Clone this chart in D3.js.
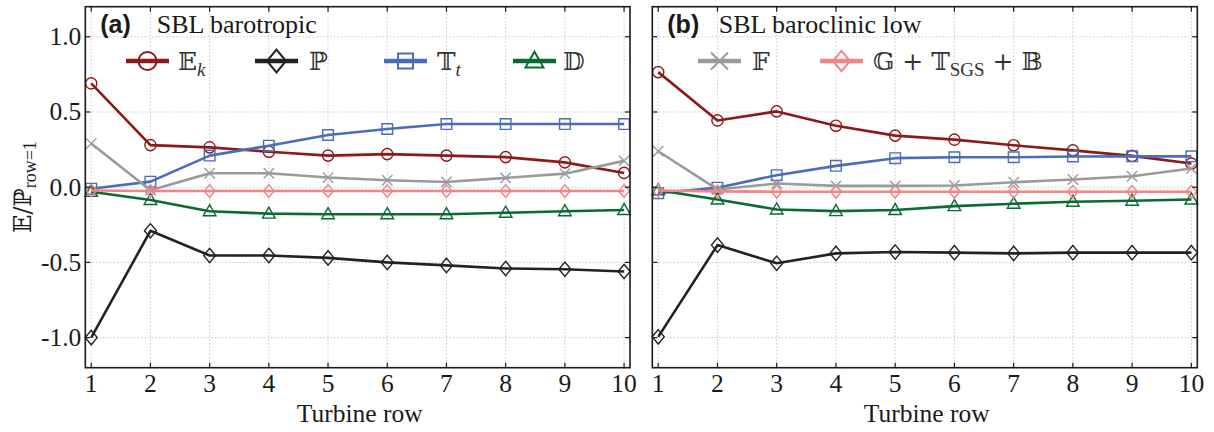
<!DOCTYPE html>
<html><head><meta charset="utf-8">
<script src="https://cdn.jsdelivr.net/npm/d3@7"></script>
<style>
html,body{margin:0;padding:0;background:#fff;}
svg{display:block;}
</style></head>
<body>
<svg id="chart" width="1214" height="432"></svg>
<script>
// ---- data ----
const rows = [1,2,3,4,5,6,7,8,9,10];
const xTicks = [1,2,3,4,5,6,7,8,9,10];
const yTicks = [-1.0,-0.5,0.0,0.5,1.0];
const yTickLabels = ["-1.0","-0.5","0.0","0.5","1.0"];

// panel (a) SBL barotropic
const ekA = [0.69,0.28,0.265,0.236,0.21,0.22,0.21,0.20,0.165,0.095];
const pA  = [-1.0,-0.29,-0.454,-0.454,-0.47,-0.50,-0.52,-0.54,-0.545,-0.56];
const ttA = [-0.01,0.037,0.21,0.276,0.347,0.387,0.42,0.42,0.42,0.42];
const dA  = [-0.03,-0.085,-0.16,-0.176,-0.18,-0.18,-0.18,-0.17,-0.16,-0.152];
const fA  = [0.29,-0.02,0.093,0.093,0.064,0.046,0.035,0.062,0.09,0.175];
const gA  = [-0.022,-0.025,-0.025,-0.025,-0.025,-0.025,-0.025,-0.025,-0.025,-0.025];

// panel (b) SBL baroclinic low
const ekB = [0.765,0.444,0.504,0.409,0.343,0.316,0.279,0.245,0.208,0.157];
const pB  = [-0.995,-0.385,-0.506,-0.44,-0.431,-0.435,-0.44,-0.435,-0.435,-0.435];
const ttB = [-0.04,-0.003,0.08,0.142,0.193,0.199,0.199,0.204,0.205,0.205];
const dB  = [-0.02,-0.082,-0.148,-0.159,-0.152,-0.126,-0.11,-0.097,-0.09,-0.082];
const fB  = [0.239,-0.015,0.025,0.009,0.009,0.011,0.033,0.051,0.073,0.124];
const gB  = [-0.022,-0.028,-0.03,-0.03,-0.03,-0.03,-0.03,-0.03,-0.03,-0.03];

const panelTags = ["(a)","(b)"];
const panelTitles = ["SBL barotropic","SBL baroclinic low"];
const xLabel = "Turbine row";

// ---- styles ----
const colors = {ek:"#8b1a1a", p:"#222222", tt:"#4a6cba", d:"#0a6b32", f:"#9a9a9a", g:"#f28585"};
const serif = "'Liberation Serif','Times New Roman',serif";
const mathFont = "'DejaVu Serif','DejaVu Sans',serif";

const svg = d3.select("#chart");
const plotTop = 6.7, plotBottom = 367.7;
const panels = [
  {left:85.3, right:630, data:{ek:ekA,p:pA,tt:ttA,d:dA,f:fA,g:gA}, yLabels:true},
  {left:652.3, right:1197.3, data:{ek:ekB,p:pB,tt:ttB,d:dB,f:fB,g:gB}, yLabels:false}
];

function markerPath(type, s){
  switch(type){
    case "circle": return d3.symbol().type(d3.symbolCircle).size(Math.PI*s*s)();
    case "square": return `M${-s},${-s}H${s}V${s}H${-s}Z`;
    case "diamond": return `M0,${-s*1.2}L${s},0L0,${s*1.2}L${-s},0Z`;
    case "triangle": return `M0,${-s*1.1}L${s*1.05},${s*0.75}L${-s*1.05},${s*0.75}Z`;
    case "x": return `M${-s},${-s}L${s},${s}M${-s},${s}L${s},${-s}`;
  }
}
const series = [
  {key:"ek", marker:"circle", ms:5.6},
  {key:"p", marker:"diamond", ms:6},
  {key:"tt", marker:"square", ms:5.3},
  {key:"d", marker:"triangle", ms:6},
  {key:"f", marker:"x", ms:5.2},
  {key:"g", marker:"diamond", ms:5.3}
];

const y = d3.scaleLinear().domain([-1.2,1.2]).range([plotBottom, plotTop]);

panels.forEach((pn, pi) => {
  const x = d3.scaleLinear().domain([0.9,10.1]).range([pn.left, pn.right]);
  const g = svg.append("g");
  g.selectAll(".gx").data(xTicks).join("line")
    .attr("x1", d=>x(d)).attr("x2", d=>x(d)).attr("y1", plotTop).attr("y2", plotBottom)
    .attr("stroke","#c8c8c8").attr("stroke-width",1).attr("stroke-dasharray","1.5,2");
  g.selectAll(".gy").data(yTicks).join("line")
    .attr("x1", pn.left).attr("x2", pn.right).attr("y1", d=>y(d)).attr("y2", d=>y(d))
    .attr("stroke","#c8c8c8").attr("stroke-width",1).attr("stroke-dasharray","1.5,2");

  const line = d3.line().x((d,i)=>x(rows[i])).y(d=>y(d));
  series.forEach(s => {
    const vals = pn.data[s.key];
    g.append("path").datum(vals).attr("d", line)
      .attr("fill","none").attr("stroke", colors[s.key]).attr("stroke-width",2.6)
      .attr("stroke-linejoin","round");
    g.selectAll(null).data(vals).join("path")
      .attr("transform",(d,i)=>`translate(${x(rows[i])},${y(d)})`)
      .attr("d", markerPath(s.marker, s.ms))
      .attr("fill","none").attr("stroke", colors[s.key]).attr("stroke-width",1.4);
  });

  g.append("rect").attr("x",pn.left).attr("y",plotTop).attr("width",pn.right-pn.left).attr("height",plotBottom-plotTop)
    .attr("fill","none").attr("stroke","#1a1a1a").attr("stroke-width",1.6);

  const tl = 5;
  g.selectAll(".tb").data(xTicks).join("line")
    .attr("x1",d=>x(d)).attr("x2",d=>x(d)).attr("y1",plotBottom).attr("y2",plotBottom-tl).attr("stroke","#1a1a1a").attr("stroke-width",1.2);
  g.selectAll(".tt").data(xTicks).join("line")
    .attr("x1",d=>x(d)).attr("x2",d=>x(d)).attr("y1",plotTop).attr("y2",plotTop+tl).attr("stroke","#1a1a1a").attr("stroke-width",1.2);
  g.selectAll(".tl").data(yTicks).join("line")
    .attr("x1",pn.left).attr("x2",pn.left+tl).attr("y1",d=>y(d)).attr("y2",d=>y(d)).attr("stroke","#1a1a1a").attr("stroke-width",1.2);
  g.selectAll(".tr").data(yTicks).join("line")
    .attr("x1",pn.right).attr("x2",pn.right-tl).attr("y1",d=>y(d)).attr("y2",d=>y(d)).attr("stroke","#1a1a1a").attr("stroke-width",1.2);

  g.selectAll(".xl").data(xTicks).join("text")
    .attr("x",d=>x(d)).attr("y",392).attr("text-anchor","middle")
    .attr("font-family",serif).attr("font-size",25.5).attr("fill","#1a1a1a").text(d=>d);
  if (pn.yLabels){
    g.selectAll(".yl").data(yTicks).join("text")
      .attr("x",pn.left-4).attr("y",d=>y(d)+8.5).attr("text-anchor","end")
      .attr("font-family",serif).attr("font-size",25.5).attr("fill","#1a1a1a").text((d,i)=>yTickLabels[i]);
  }
  g.append("text").attr("x",(pn.left+pn.right)/2+2).attr("y",421.5).attr("text-anchor","middle")
    .attr("font-family",serif).attr("font-size",25.5).attr("fill","#1a1a1a").text(xLabel);

  g.append("text").attr("x",pn.left+15).attr("y",32.5)
    .attr("font-family","'Liberation Sans',Arial,sans-serif").attr("font-weight","bold").attr("font-size",25)
    .attr("fill","#1a1a1a").text(panelTags[pi]);
  g.append("text").attr("x",pn.left+(pi===0?71.5:66.5)).attr("y",32.5)
    .attr("font-family",serif).attr("font-size",26).attr("fill","#1a1a1a").text(panelTitles[pi]);
});

const yl = svg.append("text").attr("transform","translate(31,187) rotate(-90)")
  .attr("text-anchor","middle").attr("font-family",mathFont).attr("font-size",24).attr("fill","#1a1a1a");
yl.append("tspan").text("𝔼/ℙ");
yl.append("tspan").attr("font-family",serif).attr("font-size",18).attr("dy",5).text("row=1");

const legendItems = [
  {key:"ek", marker:"circle", ms:9, lx:126, tx:178, ly:61, label:[["𝔼",0,null],["k",1,"italic"]]},
  {key:"p", marker:"diamond", ms:9.5, lx:255, tx:309, ly:61, label:[["ℙ",0,null]]},
  {key:"tt", marker:"square", ms:7.5, lx:384, tx:437, ly:61, label:[["𝕋",0,null],["t",1,"italic"]]},
  {key:"d", marker:"triangle", ms:8.5, lx:513, tx:563, ly:61, label:[["𝔻",0,null]]},
  {key:"f", marker:"x", ms:8.5, lx:698, tx:752, ly:61, label:[["𝔽",0,null]]},
  {key:"g", marker:"diamond", ms:8.5, lx:820, tx:873, ly:61, label:[["𝔾 + 𝕋",0,null],["SGS",1,"normal"],[" + 𝔹",2,null]]}
];
legendItems.forEach(it => {
  const gl = svg.append("g");
  gl.append("line").attr("x1",it.lx).attr("x2",it.lx+43).attr("y1",it.ly).attr("y2",it.ly)
    .attr("stroke",colors[it.key]).attr("stroke-width",4.5);
  gl.append("path").attr("transform",`translate(${it.lx+21.5},${it.ly})`)
    .attr("d",markerPath(it.marker,it.ms)).attr("fill","none")
    .attr("stroke",colors[it.key]).attr("stroke-width",2);
  const t = gl.append("text").attr("x",it.tx).attr("y",it.ly+9)
    .attr("font-family",mathFont).attr("font-size",25).attr("fill","#333");
  it.label.forEach(([s,kind,style]) => {
    const sp = t.append("tspan").text(s);
    if (kind===1){ sp.attr("font-family",serif).attr("font-size",19).attr("dy",6).attr("font-style",style); }
    if (kind===2){ sp.attr("dy",-6); }
  });
});
</script>
</body></html>
